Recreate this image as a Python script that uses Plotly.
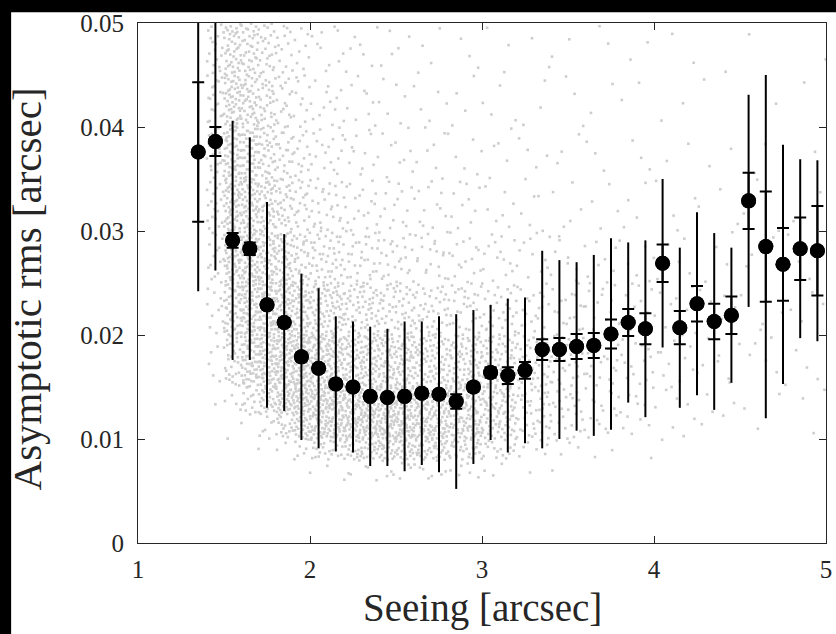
import plotly.graph_objects as go

# ---------------- data ----------------
bin_centers = [1.35, 1.45, 1.55, 1.65, 1.75, 1.85, 1.95, 2.05, 2.15, 2.25,
               2.35, 2.45, 2.55, 2.65, 2.75, 2.85, 2.95, 3.05, 3.15, 3.25,
               3.35, 3.45, 3.55, 3.65, 3.75, 3.85, 3.95, 4.05, 4.15, 4.25,
               4.35, 4.45, 4.55, 4.65, 4.75, 4.85, 4.95]
mean_rms = [0.0376, 0.0386, 0.0291, 0.0283, 0.0229, 0.0212, 0.0179, 0.0168, 0.0153, 0.0150,
            0.0141, 0.0140, 0.0141, 0.0144, 0.0143, 0.0136, 0.0150, 0.0164, 0.0161, 0.0166,
            0.0186, 0.0186, 0.0189, 0.0190, 0.0201, 0.0212, 0.0206, 0.0269, 0.0207, 0.0230,
            0.0213, 0.0219, 0.0329, 0.0285, 0.0268, 0.0283, 0.0281]
std_rms = [0.0134, 0.0124, 0.0115, 0.0107, 0.0099, 0.0085, 0.0080, 0.0077, 0.0065, 0.0063,
           0.0067, 0.0066, 0.0072, 0.0069, 0.0075, 0.0084, 0.0074, 0.0065, 0.0074, 0.0070,
           0.0095, 0.0086, 0.0081, 0.0087, 0.0092, 0.0077, 0.0085, 0.0081, 0.0077, 0.0088,
           0.0085, 0.0065, 0.0102, 0.0165, 0.0115, 0.0086, 0.0087]
sem_rms = [0.0067, 0.0014, 0.0007, 0.0006, 0.0004, 0.0004, 0.0004, 0.0004, 0.0003, 0.0003,
           0.0003, 0.0003, 0.0003, 0.0004, 0.0004, 0.0007, 0.0004, 0.0005, 0.0008, 0.0008,
           0.0010, 0.0011, 0.0012, 0.0012, 0.0014, 0.0013, 0.0015, 0.0018, 0.0016, 0.0017,
           0.0017, 0.0018, 0.0027, 0.0053, 0.0035, 0.0030, 0.0043]

# density of the grey point cloud (points per 0.1 arcsec x 0.001 arcsec)
cloud_x_edges = [1.40, 1.50, 1.60, 1.70, 1.80, 1.90, 2.00, 2.20, 2.40, 2.60, 2.80,
                 3.00, 3.20, 3.40, 3.60, 3.80, 4.00, 4.25, 4.50, 4.75, 5.00]
cloud_y_edges = [0.004, 0.006, 0.008, 0.010, 0.0125, 0.015, 0.020, 0.025,
                 0.030, 0.035, 0.040, 0.045, 0.050]
cloud_density = [
    [0, 0, 0, 0.1, 0.3, 1, 2, 3, 3.5, 4, 4, 3.5],
    [0, 0, 0, 0.2, 1.5, 6, 10, 11, 11, 11, 10, 8],
    [0, 0, 0.1, 1, 5, 12, 13, 13, 11, 10, 8, 7],
    [0, 0, 0.3, 3, 10, 14, 14, 11, 8.5, 7, 6, 4.5],
    [0, 0.1, 1, 7, 14, 15, 12, 8.5, 6, 4.5, 3.5, 2.8],
    [0, 0.2, 3.5, 12, 16, 15, 10, 6, 4, 2.8, 2.2, 1.6],
    [0, 0.7, 6, 14, 16, 13, 8, 4.5, 2.8, 1.8, 1.3, 1],
    [0.1, 1.4, 10, 16, 15, 11, 6, 3.2, 1.8, 1.2, 0.9, 0.7],
    [0.1, 2, 11, 16, 14, 9.5, 5, 2.5, 1.4, 0.9, 0.6, 0.5],
    [0.1, 2, 10, 14, 12, 8, 4, 2, 1.2, 0.7, 0.5, 0.4],
    [0.1, 1.4, 7.5, 11, 10, 7.5, 3.5, 1.7, 1, 0.6, 0.4, 0.3],
    [0.05, 0.7, 4, 8, 8, 6, 3, 1.4, 0.7, 0.5, 0.35, 0.25],
    [0.05, 0.3, 1.8, 4, 4.5, 4, 2.2, 1.1, 0.6, 0.4, 0.3, 0.2],
    [0, 0.2, 0.9, 2.3, 2.8, 2.8, 1.7, 0.9, 0.5, 0.3, 0.25, 0.2],
    [0, 0.1, 0.5, 1.4, 1.8, 2, 1.3, 0.7, 0.4, 0.3, 0.2, 0.2],
    [0, 0.05, 0.3, 0.9, 1.2, 1.4, 1, 0.6, 0.35, 0.25, 0.2, 0.15],
    [0, 0.05, 0.2, 0.5, 0.7, 0.9, 0.7, 0.45, 0.3, 0.2, 0.15, 0.12],
    [0, 0, 0.1, 0.3, 0.45, 0.6, 0.5, 0.35, 0.25, 0.18, 0.12, 0.1],
    [0, 0, 0.05, 0.2, 0.3, 0.4, 0.35, 0.3, 0.2, 0.15, 0.1, 0.1],
    [0, 0, 0.05, 0.15, 0.25, 0.3, 0.3, 0.25, 0.18, 0.12, 0.1, 0.08],
]

x_ticks = [1, 2, 3, 4, 5]
x_tick_labels = ["1", "2", "3", "4", "5"]
y_ticks = [0, 0.01, 0.02, 0.03, 0.04, 0.05]
y_tick_labels = ["0", "0.01", "0.02", "0.03", "0.04", "0.05"]


# ---------------- expand the density grid into dots (deterministic, low-discrepancy) ----------------
def halton(i, base):
    f, r = 1.0, 0.0
    while i > 0:
        f /= base
        r += f * (i % base)
        i //= base
    return r


cloud_x, cloud_y = [], []
idx = 1
for ci in range(len(cloud_x_edges) - 1):
    x0, x1 = cloud_x_edges[ci], cloud_x_edges[ci + 1]
    for ri in range(len(cloud_y_edges) - 1):
        y0, y1 = cloud_y_edges[ri], cloud_y_edges[ri + 1]
        n = int(round(cloud_density[ci][ri] * (x1 - x0) / 0.1 * (y1 - y0) / 0.001))
        for k in range(n):
            cloud_x.append(x0 + (x1 - x0) * halton(idx, 2))
            cloud_y.append(y0 + (y1 - y0) * halton(idx, 3))
            idx += 1

FRAME = "#262626"
SERIF = "Liberation Serif, Times New Roman, serif"

fig = go.Figure()
fig.add_trace(go.Scatter(
    x=cloud_x, y=cloud_y, mode="markers",
    marker=dict(symbol="square", size=2.6, color="#cdcdcd", line=dict(width=0)),
    hoverinfo="skip"))
fig.add_trace(go.Scatter(
    x=bin_centers, y=mean_rms, mode="markers",
    marker=dict(size=15, color="black", line=dict(width=0)),
    error_y=dict(type="data", array=std_rms, symmetric=True,
                 color="black", thickness=2, width=0)))
fig.add_trace(go.Scatter(
    x=bin_centers, y=mean_rms, mode="markers",
    marker=dict(size=15, color="black", line=dict(width=0)),
    error_y=dict(type="data", array=sem_rms, symmetric=True,
                 color="black", thickness=2, width=6)))

axis_common = dict(
    showgrid=False, zeroline=False, showline=True, linecolor=FRAME, linewidth=1,
    mirror="ticks", ticks="inside", ticklen=7, tickwidth=1, tickcolor=FRAME,
    tickfont=dict(family=SERIF, size=25, color=FRAME),
    ticklabeloverflow="allow",
)
fig.update_xaxes(range=[1, 5], tickvals=x_ticks, ticktext=x_tick_labels,
                 ticklabelstandoff=4, **axis_common)
fig.update_yaxes(range=[0, 0.05], tickvals=y_ticks, ticktext=y_tick_labels,
                 ticklabelstandoff=8, **axis_common)

fig.update_layout(
    width=836, height=634,
    margin=dict(l=138, r=4, t=23, b=91, pad=0),
    paper_bgcolor="white", plot_bgcolor="white",
    showlegend=False,
    annotations=[
        dict(text="Seeing [arcsec]", xref="paper", yref="paper", x=0.5, y=-0.125,
             xanchor="center", yanchor="middle", showarrow=False,
             font=dict(family=SERIF, size=39, color=FRAME)),
        dict(text="Asymptotic rms [arcsec]", xref="paper", yref="paper", x=-0.161, y=0.488,
             xanchor="center", yanchor="middle", textangle=-90, showarrow=False,
             font=dict(family=SERIF, size=41, color=FRAME)),
    ],
    shapes=[
        dict(type="rect", xref="paper", yref="paper", x0=-0.3, x1=1.1, y0=1.0206, y1=1.1,
             fillcolor="black", line=dict(width=0), layer="above"),
        dict(type="rect", xref="paper", yref="paper", x0=-0.3, x1=-0.1844, y0=-0.3, y1=1.1,
             fillcolor="black", line=dict(width=0), layer="above"),
    ],
)

fig.write_html("out.html")
